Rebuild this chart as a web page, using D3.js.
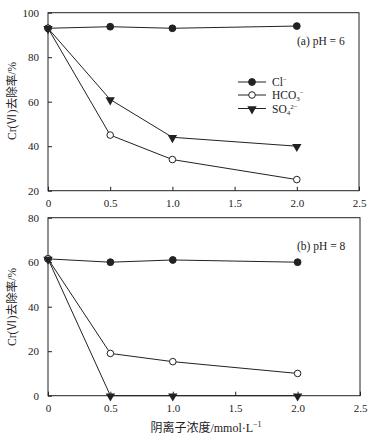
<!DOCTYPE html>
<html><head><meta charset="utf-8">
<script src="https://cdn.jsdelivr.net/npm/d3@7"></script>
<style>body{margin:0;background:#fff}svg{display:block}</style>
</head><body><svg id="c" width="376" height="440"></svg>
<script>
const xVals = [0, 0.5, 1.0, 2.0];
const xTicks = [0, 0.5, 1.0, 1.5, 2.0, 2.5];
const xTickLabels = ["0", "0.5", "1.0", "1.5", "2.0", "2.5"];
// panel (a) pH = 6
const aCl = [93, 93.7, 93, 94];
const aHCO3 = [93, 45, 34, 25];
const aSO4 = [93, 61, 44, 40];
const aYTicks = [20, 40, 60, 80, 100];
// panel (b) pH = 8
const bCl = [61.5, 60, 61, 60];
const bHCO3 = [61.5, 19, 15.3, 10];
const bSO4 = [61.5, 0, 0, 0];
const bYTicks = [0, 20, 40, 60, 80];

const svg = d3.select("#c");
const col = "#222";
const font = "'Liberation Serif','Times New Roman',serif";
const cjk = "'Liberation Serif','Noto Sans CJK SC',serif";

function panel(top, bottom, left, right, yDomain, yTicks, series, label, showLegend) {
  const x = d3.scaleLinear().domain([0, 2.5]).range([left, right]);
  const y = d3.scaleLinear().domain(yDomain).range([bottom, top]);
  const g = svg.append("g");
  g.append("rect").attr("x", left).attr("y", top).attr("width", right - left).attr("height", bottom - top)
    .attr("fill", "none").attr("stroke", col).attr("stroke-width", 1);
  const xa = g.append("g").attr("transform", `translate(0,${bottom})`)
    .call(d3.axisBottom(x).tickValues(xTicks).tickSizeInner(-4).tickSizeOuter(0).tickPadding(9)
      .tickFormat((d, i) => xTickLabels[i]));
  const ya = g.append("g").attr("transform", `translate(${left},0)`)
    .call(d3.axisLeft(y).tickValues(yTicks).tickSizeInner(-4).tickSizeOuter(0).tickPadding(9)
      .tickFormat(d3.format("d")));
  [xa, ya].forEach(a => {
    a.select(".domain").remove();
    a.selectAll("line").attr("stroke", col);
    a.selectAll("text").attr("fill", col).style("font-family", font).style("font-size", "11px");
  });
  const line = d3.line().x((d, i) => x(xVals[i])).y(d => y(d));
  series.forEach(s => {
    g.append("path").datum(s.values).attr("d", line).attr("fill", "none").attr("stroke", col).attr("stroke-width", 1);
  });
  series.forEach(s => {
    s.values.forEach((v, i) => drawMarker(g, s.type, x(xVals[i]), y(v)));
  });
  g.append("text").attr("x", 297).attr("y", top + 32).attr("fill", col)
    .style("font-family", font).style("font-size", "11.5px").text(label);
  if (showLegend) {
    const lx1 = 238, lx2 = 266, tx = 272;
    const rows = [{type: "filled", y: 82, t: [["Cl", 0], ["−", 1]]},
                  {type: "open", y: 95, t: [["HCO", 0], ["3", -1], ["−", 1]]},
                  {type: "tri", y: 108.5, t: [["SO", 0], ["4", -1], ["2−", 1]]}];
    rows.forEach(r => {
      g.append("line").attr("x1", lx1).attr("x2", lx2).attr("y1", r.y).attr("y2", r.y).attr("stroke", col);
      drawMarker(g, r.type, (lx1 + lx2) / 2, r.y);
      const t = g.append("text").attr("x", tx).attr("y", r.y + 4).attr("fill", col)
        .style("font-family", font).style("font-size", "11.5px");
      let cum = 0;
      r.t.forEach(([s, sh]) => {
        const target = sh > 0 ? -4 : sh < 0 ? 2 : 0;
        const sp = t.append("tspan").text(s).attr("dy", target - cum);
        cum = target;
        if (sh !== 0) sp.style("font-size", "7px");
      });
    });
  }
  return {x, y};
}

function drawMarker(g, type, cx, cy) {
  if (type === "filled") {
    g.append("circle").attr("cx", cx).attr("cy", cy).attr("r", 3.4).attr("fill", col).attr("stroke", col);
  } else if (type === "open") {
    g.append("circle").attr("cx", cx).attr("cy", cy).attr("r", 3.3).attr("fill", "#fff").attr("stroke", col);
  } else {
    g.append("path").attr("d", d3.symbol().type(d3.symbolTriangle).size(38)())
      .attr("transform", `translate(${cx},${cy + 0.5}) rotate(180)`).attr("fill", col);
  }
}

panel(12.7, 190.7, 48, 359, [20, 100], aYTicks,
  [{type: "filled", values: aCl}, {type: "open", values: aHCO3}, {type: "tri", values: aSO4}],
  "(a) pH = 6", true);
panel(217.7, 395.7, 48, 360, [0, 80], bYTicks,
  [{type: "filled", values: bCl}, {type: "open", values: bHCO3}, {type: "tri", values: bSO4}],
  "(b) pH = 8", false);

// y titles
[101, 307].forEach(cy => {
  svg.append("text").attr("transform", `translate(16,${cy}) rotate(-90)`).attr("text-anchor", "middle")
    .attr("fill", col).style("font-family", cjk).style("font-size", "11.5px").text("Cr(Ⅵ)去除率/%");
});
// x title
const xt = svg.append("text").attr("x", 206).attr("y", 432).attr("text-anchor", "middle").attr("fill", col)
  .style("font-family", cjk).style("font-size", "12px");
xt.append("tspan").text("阴离子浓度/mmol·L");
xt.append("tspan").attr("dy", -5).style("font-size", "8px").text("−1");
</script></body></html>
